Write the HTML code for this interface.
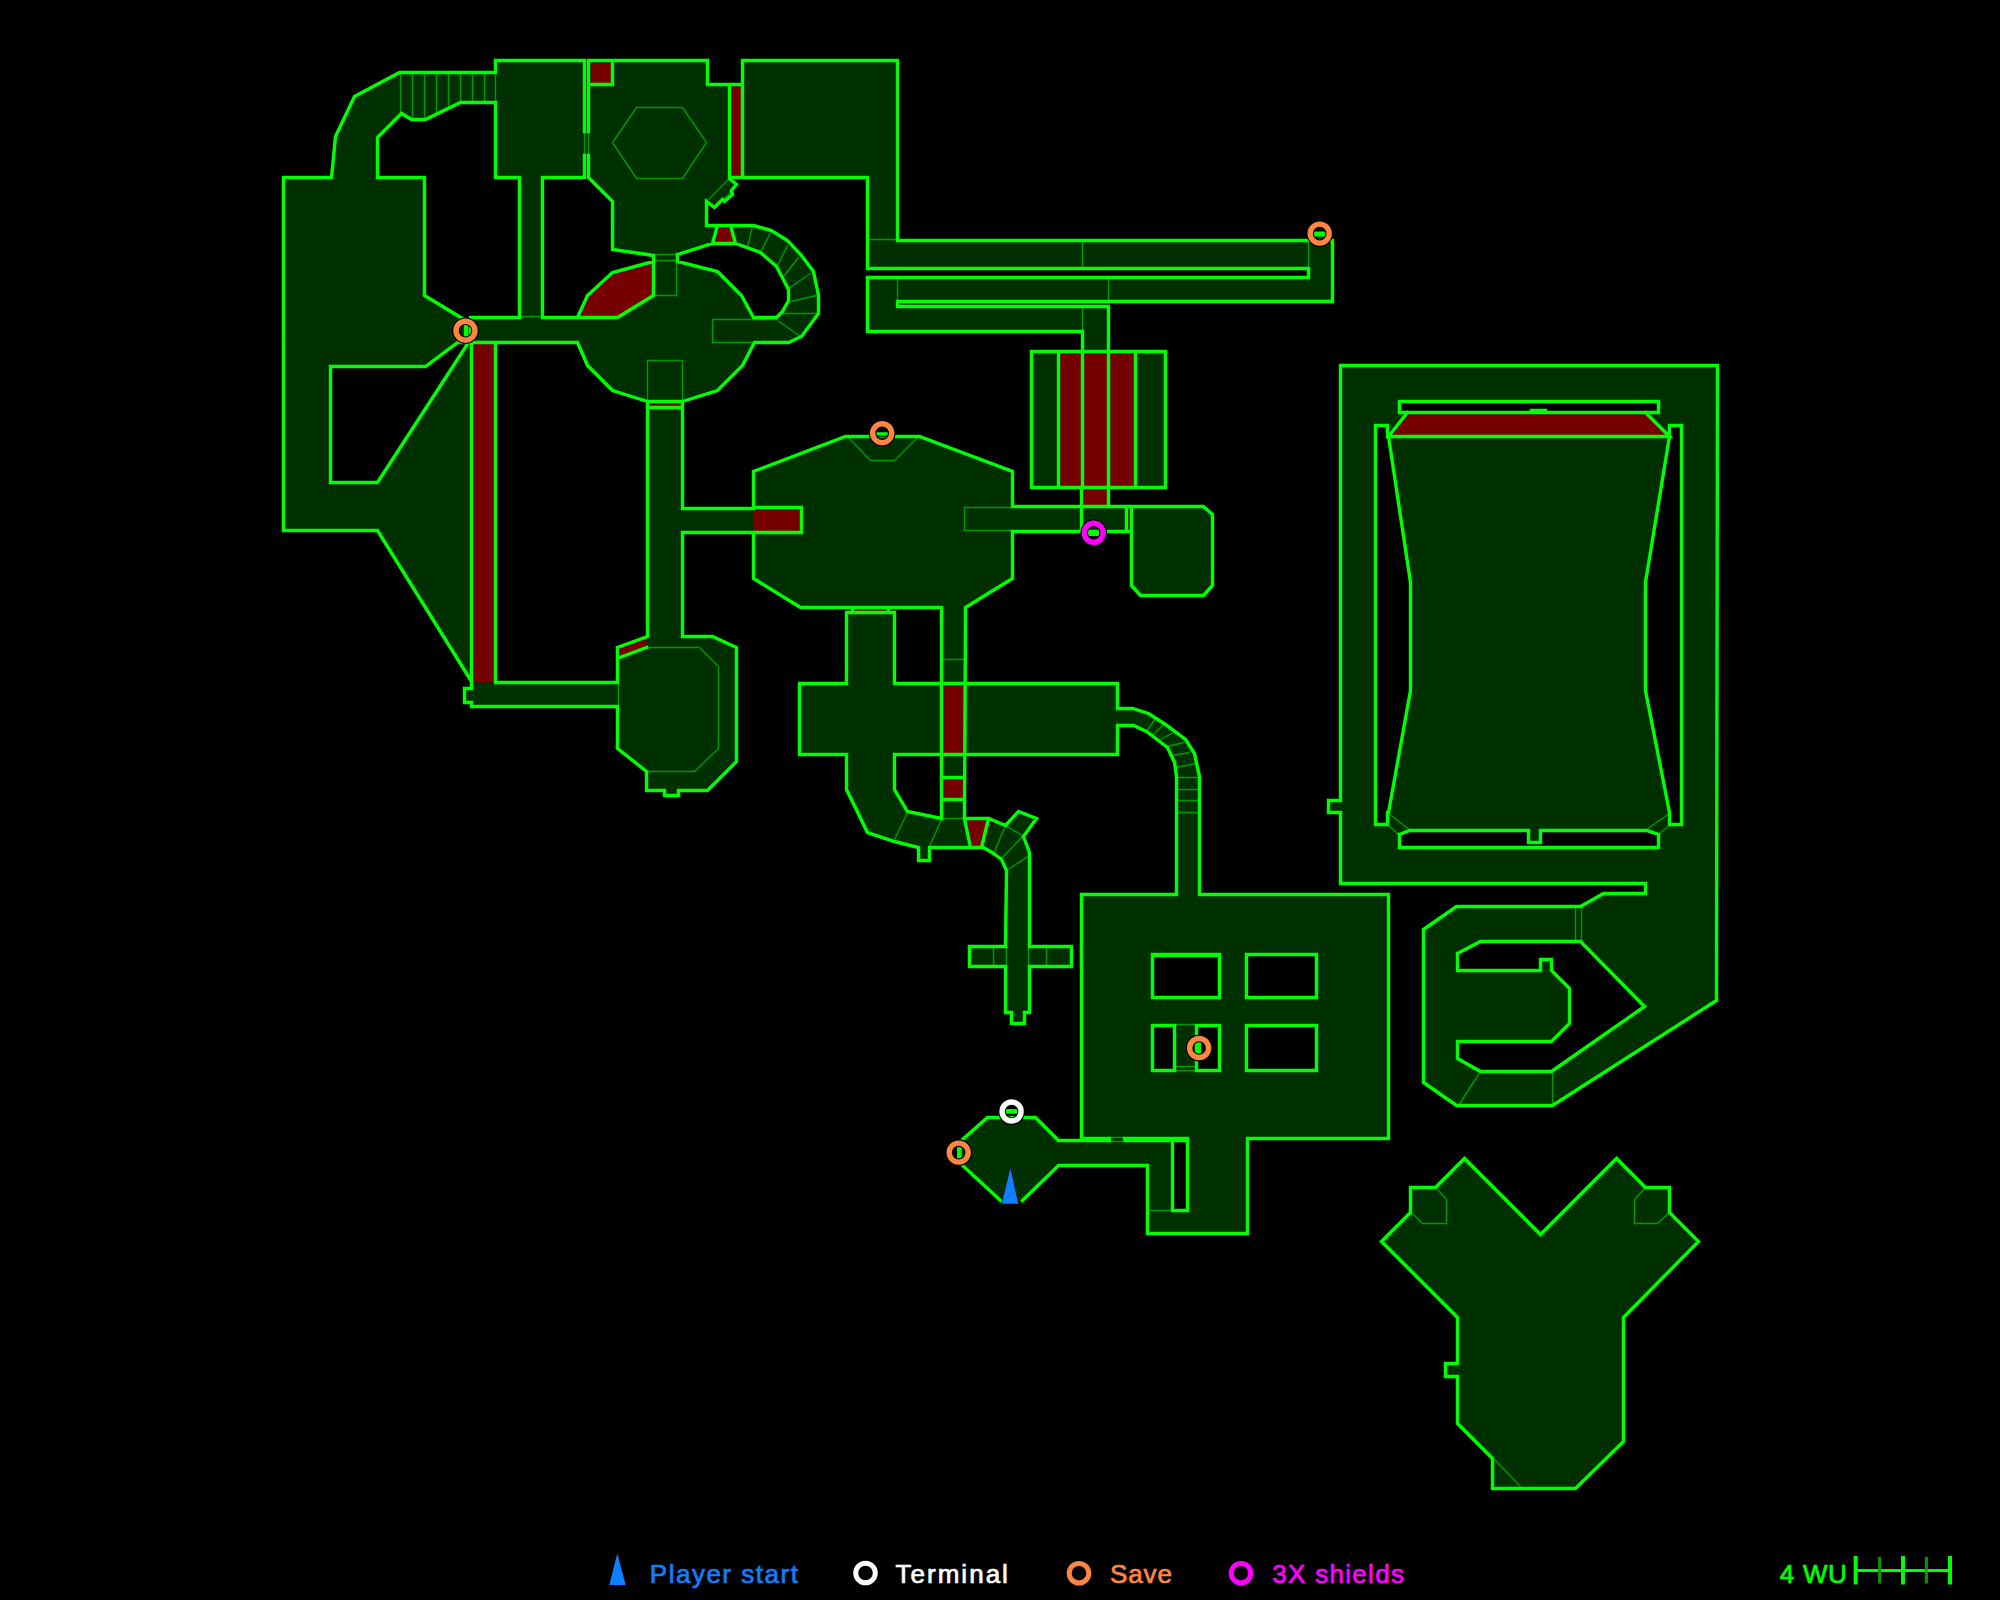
<!DOCTYPE html>
<html><head><meta charset="utf-8"><style>
html,body{margin:0;padding:0;background:#000;width:2000px;height:1600px;overflow:hidden}
svg{display:block}
.t{font-family:"Liberation Sans",sans-serif;font-size:26px;font-weight:normal;stroke-width:0.7px}
</style></head><body>
<svg width="2000" height="1600" viewBox="0 0 2000 1600">
<rect width="2000" height="1600" fill="#000"/>
<g fill="#002f00" stroke="#002f00" stroke-width="1">
<polygon points="283.5,177.5 331.5,177.5 335.5,136.5 354.5,96.5 399.5,72.5 495.5,72.5 495.5,102.5 460.5,102.5 425.5,119.5 411.5,119.5 401.5,113.5 377.5,137.5 377.5,177.5 424.5,177.5 424.5,295.5 465.5,322.5 471.5,343.5 471.5,681.5 377.5,530.5 283.5,530.5"/>
<polygon points="495.5,60.5 585.5,60.5 585.5,131.5 589.5,131.5 589.5,155.5 585.5,155.5 585.5,177.5 542.5,177.5 542.5,317.5 519.5,317.5 519.5,177.5 495.5,177.5"/>
<polygon points="462.5,317.5 582.5,317.5 582.5,342.5 462.5,342.5"/>
<polygon points="577.5,317.5 587.5,295.5 612.5,271.5 653.5,261.5 653.5,255.5 677.5,254.5 677.5,261.5 717.5,271.5 742.5,296.5 754.5,319.5 754.5,342.5 742.5,365.5 717.5,390.5 682.5,401.5 647.5,401.5 612.5,390.5 587.5,365.5 577.5,342.5"/>
<polygon points="588.5,60.5 707.5,60.5 707.5,84.5 729.5,84.5 729.5,178.5 736.5,184.5 731.5,190.5 732.5,194.5 724.5,201.5 722.5,199.5 714.5,207.5 706.5,201.5 706.5,225.5 717.5,225.5 712.5,243.5 677.5,254.5 653.5,255.5 612.5,249.5 612.5,201.5 588.5,177.5"/>
<polygon points="706.5,225.5 753.5,225.5 771.5,230.5 787.5,240.5 801.5,255.5 813.5,271.5 818.5,295.5 818.5,313.5 801.5,336.5 788.5,342.5 754.5,342.5 754.5,319.5 776.5,317.5 782.5,311.5 788.5,300.5 788.5,289.5 776.5,266.5 760.5,252.5 735.5,243.5 712.5,243.5"/>
<polygon points="742.5,60.5 897.5,60.5 897.5,240.5 1332.5,240.5 1332.5,301.5 1108.5,301.5 1108.5,351.5 1082.5,351.5 1082.5,331.5 867.5,331.5 867.5,277.5 1308.5,277.5 1308.5,268.5 867.5,268.5 867.5,177.5 742.5,177.5"/>
<polygon points="647.5,401.5 682.5,401.5 682.5,508.5 753.5,508.5 753.5,532.5 682.5,532.5 682.5,636.5 712.5,636.5 736.5,647.5 736.5,761.5 707.5,790.5 678.5,790.5 678.5,795.5 664.5,795.5 664.5,790.5 646.5,790.5 646.5,771.5 617.5,748.5 617.5,647.5 646.5,636.5"/>
<polygon points="471.5,682.5 618.5,682.5 618.5,706.5 471.5,706.5 471.5,702.5 464.5,702.5 464.5,688.5 471.5,688.5"/>
<polygon points="845.5,436.5 919.5,436.5 1012.5,471.5 1012.5,578.5 965.5,607.5 941.5,607.5 800.5,607.5 753.5,578.5 753.5,471.5"/>
<polygon points="846.5,612.5 894.5,612.5 894.5,683.5 941.5,683.5 941.5,754.5 894.5,754.5 894.5,789.5 907.5,811.5 941.5,818.5 1005.5,825.5 1018.5,811.5 1036.5,818.5 1023.5,836.5 1029.5,852.5 1029.5,946.5 1071.5,946.5 1071.5,966.5 1029.5,966.5 1029.5,1012.5 1024.5,1012.5 1024.5,1023.5 1011.5,1023.5 1011.5,1012.5 1005.5,1012.5 1005.5,966.5 969.5,966.5 969.5,946.5 1005.5,946.5 1005.5,871.5 1001.5,859.5 993.5,853.5 983.5,847.5 929.5,847.5 929.5,860.5 918.5,860.5 918.5,847.5 894.5,841.5 867.5,832.5 846.5,789.5 846.5,754.5 799.5,754.5 799.5,683.5 846.5,683.5"/>
<polygon points="941.5,607.5 964.5,607.5 964.5,820.5 941.5,820.5"/>
<polygon points="964.5,682.5 1117.5,682.5 1117.5,708.5 1132.5,708.5 1148.5,713.5 1165.5,724.5 1185.5,739.5 1194.5,753.5 1199.5,776.5 1199.5,896.5 1176.5,896.5 1176.5,776.5 1174.5,762.5 1167.5,747.5 1146.5,731.5 1133.5,725.5 1117.5,725.5 1117.5,754.5 964.5,754.5"/>
<polygon points="1031.5,351.5 1165.5,351.5 1165.5,487.5 1031.5,487.5"/>
<polygon points="1011.5,506.5 1131.5,506.5 1131.5,531.5 1011.5,531.5"/>
<polygon points="1131.5,505.5 1203.5,505.5 1212.5,514.5 1212.5,585.5 1203.5,595.5 1140.5,595.5 1131.5,585.5"/>
<polygon points="1340.5,365.5 1717.5,365.5 1716.5,1000.5 1552.5,1105.5 1456.5,1105.5 1423.5,1082.5 1423.5,929.5 1456.5,906.5 1580.5,906.5 1603.5,893.5 1645.5,893.5 1645.5,883.5 1340.5,883.5 1340.5,812.5 1328.5,812.5 1328.5,800.5 1340.5,800.5"/>
<polygon points="1081.5,895.5 1388.5,895.5 1388.5,1138.5 1247.5,1138.5 1247.5,1233.5 1147.5,1233.5 1147.5,1165.5 1058.5,1165.5 1058.5,1139.5 1081.5,1139.5"/>
<polygon points="987.5,1117.5 1035.5,1117.5 1058.5,1139.5 1058.5,1165.5 1022.5,1200.5 1000.5,1200.5 962.5,1165.5 962.5,1139.5"/>
<polygon points="1464.5,1158.5 1540.5,1234.5 1616.5,1158.5 1645.5,1187.5 1669.5,1187.5 1669.5,1212.5 1698.5,1241.5 1623.5,1317.5 1623.5,1441.5 1575.5,1488.5 1492.5,1488.5 1492.5,1458.5 1457.5,1423.5 1457.5,1376.5 1445.5,1376.5 1445.5,1363.5 1457.5,1363.5 1457.5,1317.5 1381.5,1241.5 1410.5,1212.5 1410.5,1187.5 1435.5,1187.5"/>
</g><g fill="#000">
<polygon points="465.5,335.5 425.5,366.5 330.5,366.5 330.5,482.5 377.5,482.5 469.5,344.5"/>
<polygon points="1399.5,401.5 1658.5,401.5 1658.5,412.5 1399.5,412.5"/>
<polygon points="1375.5,425.5 1387.5,425.5 1387.5,436.5 1410.5,582.5 1410.5,690.5 1387.5,812.5 1387.5,824.5 1375.5,824.5"/>
<polygon points="1681.5,425.5 1669.5,425.5 1669.5,436.5 1645.5,582.5 1645.5,690.5 1669.5,812.5 1669.5,824.5 1681.5,824.5"/>
<polygon points="1399.5,834.5 1409.5,830.5 1528.5,830.5 1528.5,842.5 1540.5,842.5 1540.5,830.5 1646.5,830.5 1658.5,834.5 1658.5,847.5 1399.5,847.5"/>
<polygon points="1457.5,953.5 1480.5,941.5 1580.5,941.5 1644.5,1006.5 1551.5,1071.5 1480.5,1071.5 1457.5,1058.5 1457.5,1041.5 1551.5,1041.5 1569.5,1023.5 1569.5,988.5 1551.5,970.5 1551.5,959.5 1540.5,959.5 1540.5,970.5 1457.5,970.5"/>
<polygon points="1152.5,954.5 1219.5,954.5 1219.5,997.5 1152.5,997.5"/>
<polygon points="1246.5,954.5 1316.5,954.5 1316.5,997.5 1246.5,997.5"/>
<polygon points="1152.5,1025.5 1174.5,1025.5 1174.5,1070.5 1152.5,1070.5"/>
<polygon points="1196.5,1025.5 1219.5,1025.5 1219.5,1070.5 1196.5,1070.5"/>
<polygon points="1246.5,1025.5 1316.5,1025.5 1316.5,1070.5 1246.5,1070.5"/>
<polygon points="1172.5,1139.5 1187.5,1139.5 1187.5,1210.5 1172.5,1210.5"/>
</g><g fill="#760000">
<polygon points="590.5,62.5 612.5,62.5 612.5,84.5 590.5,84.5"/>
<polygon points="729.5,84.5 742.5,84.5 742.5,177.5 729.5,177.5"/>
<polygon points="580.5,317.5 587.5,295.5 612.5,272.5 653.5,261.5 653.5,295.5 617.5,317.5"/>
<polygon points="717.5,225.5 730.5,225.5 735.5,243.5 712.5,243.5"/>
<polygon points="471.5,343.5 495.5,343.5 495.5,682.5 471.5,682.5"/>
<polygon points="647.5,402.5 682.5,402.5 682.5,407.5 647.5,407.5"/>
<polygon points="616.5,647.5 646.5,636.5 646.5,647.5 619.5,657.5"/>
<polygon points="753.5,507.5 801.5,507.5 801.5,532.5 753.5,532.5"/>
<polygon points="852.5,607.5 889.5,607.5 889.5,612.5 852.5,612.5"/>
<polygon points="941.5,683.5 964.5,683.5 964.5,754.5 941.5,754.5"/>
<polygon points="941.5,777.5 964.5,777.5 964.5,799.5 941.5,799.5"/>
<polygon points="966.5,819.5 986.5,819.5 981.5,846.5 970.5,846.5"/>
<polygon points="1058.5,351.5 1135.5,351.5 1135.5,487.5 1058.5,487.5"/>
<polygon points="1081.5,487.5 1108.5,487.5 1108.5,506.5 1081.5,506.5"/>
<polygon points="1126.5,508.5 1132.5,508.5 1132.5,529.5 1126.5,529.5"/>
<polygon points="1407.5,412.5 1645.5,412.5 1669.5,436.5 1388.5,436.5"/>
</g>
<path d="M400.5 72.5 L400.5 113.5 M412.5 72.5 L412.5 119.5 M424.5 72.5 L424.5 119.5 M436.5 72.5 L436.5 114.5 M448.5 72.5 L448.5 108.5 M460.5 72.5 L460.5 102.5 M472.5 72.5 L472.5 102.5 M484.5 72.5 L484.5 102.5 M495.5 72.5 L495.5 102.5 M584.5 131.5 L584.5 155.5 M588.5 131.5 L588.5 155.5 M520.5 316.5 L542.5 316.5 M612.5 142.5 L636.5 107.5 L682.5 107.5 L706.5 142.5 L682.5 178.5 L636.5 178.5 L612.5 142.5 M707.5 200.5 L729.5 178.5 M723.5 199.5 L731.5 191.5 M655.5 254.5 L676.5 254.5 M653.5 260.5 L677.5 260.5 M676.5 261.5 L676.5 295.5 L653.5 295.5 M777.5 319.5 L712.5 319.5 L712.5 342.5 L754.5 342.5 M752.5 226.5 L747.5 246.5 M770.5 232.5 L760.5 252.5 M787.5 245.5 L777.5 265.5 M798.5 257.5 L783.5 276.5 M810.5 273.5 L788.5 288.5 M816.5 295.5 L790.5 301.5 M816.5 313.5 L782.5 313.5 M800.5 336.5 L777.5 320.5 M647.5 401.5 L647.5 360.5 L682.5 360.5 L682.5 401.5 M867.5 239.5 L897.5 239.5 M1082.5 240.5 L1082.5 268.5 M897.5 277.5 L897.5 301.5 M1108.5 277.5 L1108.5 301.5 M1082.5 306.5 L1082.5 331.5 M1308.5 240.5 L1308.5 269.5 M646.5 647.5 L699.5 647.5 L718.5 666.5 L718.5 748.5 L694.5 771.5 L646.5 771.5 M618.5 682.5 L618.5 707.5 M848.5 437.5 L870.5 460.5 L894.5 460.5 L917.5 437.5 M870.5 437.5 L894.5 437.5 M1012.5 507.5 L964.5 507.5 L964.5 530.5 L1012.5 530.5 M941.5 659.5 L964.5 659.5 M941.5 818.5 L964.5 818.5 M907.5 812.5 L894.5 839.5 M941.5 819.5 L929.5 846.5 M1005.5 825.5 L1022.5 835.5 M1005.5 825.5 L994.5 851.5 M1022.5 836.5 L1001.5 858.5 M1029.5 855.5 L1006.5 870.5 M1146.5 731.5 L1155.5 718.5 M1153.5 734.5 L1163.5 724.5 M1160.5 739.5 L1173.5 732.5 M1167.5 746.5 L1183.5 742.5 M1172.5 755.5 L1189.5 752.5 M1175.5 767.5 L1196.5 763.5 M1176.5 777.5 L1199.5 777.5 M1177.5 789.5 L1198.5 789.5 M1177.5 800.5 L1198.5 800.5 M1177.5 812.5 L1198.5 812.5 M993.5 946.5 L993.5 966.5 M1006.5 946.5 L1006.5 966.5 M1028.5 946.5 L1028.5 966.5 M1046.5 946.5 L1046.5 966.5 M1388.5 813.5 L1409.5 829.5 M1388.5 825.5 L1398.5 834.5 M1669.5 813.5 L1646.5 829.5 M1669.5 825.5 L1658.5 834.5 M1575.5 906.5 L1575.5 941.5 M1581.5 906.5 L1581.5 941.5 M1480.5 1071.5 L1458.5 1105.5 M1552.5 1071.5 L1552.5 1105.5 M1109.5 1137.5 L1125.5 1137.5 M1109.5 1141.5 L1125.5 1141.5 M1147.5 1210.5 L1172.5 1210.5 M1174.5 1024.5 L1196.5 1024.5 M1174.5 1066.5 L1196.5 1066.5 M1174.5 1070.5 L1196.5 1070.5 M1435.5 1187.5 L1446.5 1199.5 L1446.5 1223.5 L1422.5 1223.5 L1411.5 1212.5 M1645.5 1187.5 L1634.5 1199.5 L1634.5 1223.5 L1657.5 1223.5 L1669.5 1212.5 M1494.5 1459.5 L1520.5 1486.5" fill="none" stroke="#009a00" stroke-width="1.4" stroke-linecap="butt" stroke-linejoin="miter"/>
<path d="M470.5 317.5 L519.5 317.5 L519.5 177.5 L495.5 177.5 L495.5 102.5 L460.5 102.5 L425.5 119.5 L411.5 119.5 L401.5 113.5 L377.5 137.5 L377.5 177.5 L424.5 177.5 L424.5 295.5 L462.5 318.5 M495.5 60.5 L495.5 72.5 L399.5 72.5 L354.5 96.5 L335.5 136.5 L331.5 177.5 L283.5 177.5 L283.5 530.5 L377.5 530.5 L471.5 681.5 M464.5 337.5 L425.5 366.5 L330.5 366.5 L330.5 482.5 L377.5 482.5 L468.5 342.5 M495.5 60.5 L584.5 60.5 L584.5 131.5 M584.5 155.5 L584.5 177.5 L542.5 177.5 L542.5 317.5 L617.5 317.5 L653.5 295.5 L653.5 255.5 M588.5 155.5 L588.5 177.5 L612.5 201.5 L612.5 249.5 L653.5 255.5 M588.5 131.5 L588.5 60.5 L707.5 60.5 L707.5 84.5 L742.5 84.5 M729.5 84.5 L729.5 178.5 L736.5 184.5 L731.5 190.5 L732.5 194.5 L724.5 201.5 L722.5 199.5 L714.5 207.5 L706.5 201.5 L706.5 225.5 L753.5 225.5 L771.5 230.5 L787.5 240.5 L801.5 255.5 L813.5 271.5 L818.5 295.5 L818.5 313.5 L801.5 336.5 L788.5 342.5 L754.5 342.5 L742.5 365.5 L717.5 390.5 L682.5 401.5 M588.5 84.5 L612.5 84.5 L612.5 60.5 M577.5 317.5 L587.5 295.5 L612.5 272.5 L653.5 261.5 M677.5 254.5 L677.5 261.5 L717.5 271.5 L741.5 295.5 L753.5 317.5 L776.5 317.5 L782.5 311.5 L788.5 300.5 L788.5 289.5 L776.5 266.5 L760.5 252.5 L735.5 243.5 L712.5 243.5 L677.5 254.5 M717.5 225.5 L712.5 243.5 M730.5 225.5 L735.5 243.5 M460.5 342.5 L577.5 342.5 L587.5 365.5 L612.5 390.5 L647.5 401.5 M729.5 177.5 L867.5 177.5 L867.5 268.5 L1308.5 268.5 L1308.5 277.5 L867.5 277.5 L867.5 331.5 L1082.5 331.5 L1082.5 351.5 M742.5 177.5 L742.5 60.5 L897.5 60.5 L897.5 240.5 L1332.5 240.5 L1332.5 301.5 L897.5 301.5 L897.5 306.5 L1108.5 306.5 L1108.5 351.5 M471.5 343.5 L471.5 682.5 M495.5 343.5 L495.5 682.5 M647.5 401.5 L647.5 636.5 L617.5 647.5 L617.5 682.5 M617.5 706.5 L617.5 748.5 L646.5 771.5 L646.5 790.5 L664.5 790.5 L664.5 795.5 L678.5 795.5 L678.5 790.5 L707.5 790.5 L736.5 761.5 L736.5 647.5 L712.5 636.5 L682.5 636.5 L682.5 532.5 L753.5 532.5 L753.5 578.5 L800.5 607.5 L941.5 607.5 L941.5 818.5 M682.5 401.5 L682.5 508.5 L753.5 508.5 L753.5 471.5 L845.5 436.5 L870.5 436.5 M894.5 436.5 L919.5 436.5 L1012.5 471.5 L1012.5 506.5 M647.5 401.5 L682.5 401.5 M647.5 407.5 L682.5 407.5 M495.5 682.5 L617.5 682.5 M471.5 682.5 L471.5 688.5 L464.5 688.5 L464.5 702.5 L471.5 702.5 L471.5 706.5 L617.5 706.5 M619.5 657.5 L646.5 647.5 M466.5 322.5 L466.5 339.5 M470.5 322.5 L470.5 339.5 M1012.5 531.5 L1012.5 578.5 L965.5 607.5 L964.5 818.5 M753.5 507.5 L801.5 507.5 L801.5 532.5 L753.5 532.5 M894.5 683.5 L894.5 612.5 L846.5 612.5 L846.5 683.5 L799.5 683.5 L799.5 754.5 L846.5 754.5 L846.5 789.5 L867.5 832.5 L894.5 841.5 L918.5 847.5 L918.5 860.5 L929.5 860.5 L929.5 847.5 L983.5 847.5 L993.5 853.5 L1001.5 859.5 L1006.5 870.5 L1005.5 946.5 L969.5 946.5 L969.5 966.5 L1005.5 966.5 L1005.5 1012.5 L1011.5 1012.5 L1011.5 1023.5 L1024.5 1023.5 L1024.5 1012.5 L1029.5 1012.5 L1029.5 966.5 L1071.5 966.5 L1071.5 946.5 L1029.5 946.5 L1029.5 852.5 L1023.5 836.5 L1036.5 818.5 L1018.5 811.5 L1005.5 825.5 L988.5 818.5 L964.5 818.5 M894.5 683.5 L1117.5 683.5 L1117.5 708.5 L1132.5 708.5 L1148.5 713.5 L1165.5 724.5 L1185.5 739.5 L1194.5 753.5 L1199.5 776.5 L1199.5 894.5 L1388.5 894.5 L1388.5 1138.5 L1247.5 1138.5 L1247.5 1233.5 L1147.5 1233.5 L1147.5 1165.5 L1058.5 1165.5 L1022.5 1200.5 M894.5 754.5 L894.5 789.5 L907.5 811.5 L941.5 818.5 M894.5 754.5 L1117.5 754.5 L1117.5 725.5 L1133.5 725.5 L1146.5 731.5 L1167.5 747.5 L1174.5 762.5 L1176.5 776.5 L1176.5 894.5 L1081.5 894.5 L1081.5 1139.5 L1109.5 1139.5 M941.5 777.5 L964.5 777.5 M941.5 799.5 L964.5 799.5 M964.5 818.5 L970.5 847.5 M988.5 818.5 L981.5 847.5 M852.5 607.5 L852.5 612.5 M888.5 607.5 L888.5 612.5 M1031.5 351.5 L1165.5 351.5 L1165.5 487.5 L1031.5 487.5 L1031.5 351.5 M1058.5 351.5 L1058.5 487.5 M1082.5 351.5 L1082.5 487.5 M1108.5 351.5 L1108.5 487.5 M1135.5 351.5 L1135.5 487.5 M1081.5 487.5 L1081.5 531.5 M1108.5 487.5 L1108.5 506.5 M1012.5 506.5 L1203.5 506.5 L1212.5 514.5 L1212.5 585.5 L1203.5 595.5 L1140.5 595.5 L1131.5 585.5 L1131.5 506.5 M1012.5 531.5 L1131.5 531.5 M1126.5 508.5 L1126.5 529.5 M1645.5 883.5 L1340.5 883.5 L1340.5 812.5 L1328.5 812.5 L1328.5 800.5 L1340.5 800.5 L1340.5 365.5 L1717.5 365.5 L1716.5 1000.5 L1552.5 1105.5 L1456.5 1105.5 L1423.5 1082.5 L1423.5 929.5 L1456.5 906.5 L1580.5 906.5 L1603.5 893.5 L1645.5 893.5 L1645.5 883.5 M1399.5 401.5 L1658.5 401.5 L1658.5 412.5 L1399.5 412.5 L1399.5 401.5 M1531.5 410.5 L1545.5 410.5 M1387.5 436.5 L1387.5 425.5 L1375.5 425.5 L1375.5 824.5 L1387.5 824.5 L1387.5 812.5 M1669.5 436.5 L1669.5 425.5 L1681.5 425.5 L1681.5 824.5 L1669.5 824.5 L1669.5 812.5 M1407.5 412.5 L1388.5 436.5 L1669.5 436.5 L1645.5 412.5 M1388.5 436.5 L1410.5 582.5 L1410.5 690.5 L1388.5 812.5 M1669.5 436.5 L1645.5 582.5 L1645.5 690.5 L1669.5 812.5 M1399.5 834.5 L1399.5 847.5 L1658.5 847.5 L1658.5 834.5 L1646.5 830.5 L1540.5 830.5 L1540.5 842.5 L1528.5 842.5 L1528.5 830.5 L1409.5 830.5 L1399.5 834.5 M1457.5 953.5 L1480.5 941.5 L1580.5 941.5 L1644.5 1006.5 L1551.5 1071.5 L1480.5 1071.5 L1457.5 1058.5 L1457.5 1041.5 L1551.5 1041.5 L1569.5 1023.5 L1569.5 988.5 L1551.5 970.5 L1551.5 959.5 L1540.5 959.5 L1540.5 970.5 L1457.5 970.5 L1457.5 953.5 M1152.5 954.5 L1219.5 954.5 L1219.5 997.5 L1152.5 997.5 L1152.5 954.5 M1246.5 954.5 L1316.5 954.5 L1316.5 997.5 L1246.5 997.5 L1246.5 954.5 M1152.5 1025.5 L1174.5 1025.5 L1174.5 1070.5 L1152.5 1070.5 L1152.5 1025.5 M1196.5 1025.5 L1219.5 1025.5 L1219.5 1070.5 L1196.5 1070.5 L1196.5 1025.5 M1246.5 1025.5 L1316.5 1025.5 L1316.5 1070.5 L1246.5 1070.5 L1246.5 1025.5 M1152.5 955.5 L1219.5 955.5 M1125.5 1140.5 L1187.5 1140.5 L1187.5 1210.5 L1172.5 1210.5 L1172.5 1140.5 M1124.5 1138.5 L1187.5 1138.5 M1081.5 1138.5 L1109.5 1138.5 M962.5 1139.5 L987.5 1117.5 L1035.5 1117.5 L1058.5 1140.5 L1109.5 1140.5 M962.5 1165.5 L1000.5 1200.5 M1464.5 1158.5 L1540.5 1234.5 L1616.5 1158.5 L1645.5 1187.5 L1669.5 1187.5 L1669.5 1212.5 L1698.5 1241.5 L1623.5 1317.5 L1623.5 1441.5 L1575.5 1488.5 L1492.5 1488.5 L1492.5 1458.5 L1457.5 1423.5 L1457.5 1376.5 L1445.5 1376.5 L1445.5 1363.5 L1457.5 1363.5 L1457.5 1317.5 L1381.5 1241.5 L1410.5 1212.5 L1410.5 1187.5 L1435.5 1187.5 L1464.5 1158.5" fill="none" stroke="#00ff00" stroke-width="3.4" stroke-linecap="square" stroke-linejoin="miter" stroke-miterlimit="3"/>
<rect x="464" y="322" width="3.75" height="17" fill="#00ff00"/>
<rect x="469" y="322" width="2.25" height="17" fill="#00ff00"/>
<rect x="1312" y="231.5" width="16" height="5.2" fill="#00ff00"/>
<rect x="874" y="432.2" width="16" height="3.3" fill="#00ff00"/>
<rect x="1197" y="1040" width="4" height="16" fill="#00ff00"/>
<rect x="957" y="1144" width="4.7" height="17" fill="#00ff00"/>
<rect x="1086" y="530.4" width="15" height="5.6" fill="#00ff00"/>
<rect x="1004" y="1109" width="15" height="4.8" fill="#00ff00"/>
<circle cx="465.5" cy="330.7" r="9.5" fill="none" stroke="#000" stroke-width="7.6"/><circle cx="465.5" cy="330.7" r="9.5" fill="none" stroke="#ff8543" stroke-width="5.4"/>
<circle cx="1319.7" cy="233.6" r="9.5" fill="none" stroke="#000" stroke-width="7.6"/><circle cx="1319.7" cy="233.6" r="9.5" fill="none" stroke="#ff8543" stroke-width="5.4"/>
<circle cx="882.2" cy="433.2" r="9.5" fill="none" stroke="#000" stroke-width="7.6"/><circle cx="882.2" cy="433.2" r="9.5" fill="none" stroke="#ff8543" stroke-width="5.4"/>
<circle cx="1199.1" cy="1048" r="9.5" fill="none" stroke="#000" stroke-width="7.6"/><circle cx="1199.1" cy="1048" r="9.5" fill="none" stroke="#ff8543" stroke-width="5.4"/>
<circle cx="958.7" cy="1152.6" r="9.5" fill="none" stroke="#000" stroke-width="7.6"/><circle cx="958.7" cy="1152.6" r="9.5" fill="none" stroke="#ff8543" stroke-width="5.4"/>
<circle cx="1093.7" cy="532.8" r="9.5" fill="none" stroke="#000" stroke-width="7.6"/><circle cx="1093.7" cy="532.8" r="9.5" fill="none" stroke="#ff00ff" stroke-width="5.4"/>
<circle cx="1011.6" cy="1111.5" r="9.5" fill="none" stroke="#000" stroke-width="7.6"/><circle cx="1011.6" cy="1111.5" r="9.5" fill="none" stroke="#ffffff" stroke-width="5.4"/>
<polygon points="1010.4,1166.5 1019,1204.5 1001,1204.5" fill="#000"/>
<polygon points="1010.4,1168 1018.3,1203.8 1001.7,1203.8" fill="#0f7fff"/>
<polygon points="617.3,1553.4 625.7,1584.9 609.3,1584.9" fill="#0f7fff"/>
<circle cx="865.5" cy="1573" r="9.8" fill="none" stroke="#ffffff" stroke-width="5"/>
<circle cx="1079" cy="1573.2" r="9.8" fill="none" stroke="#ff8543" stroke-width="5"/>
<circle cx="1241" cy="1573.2" r="9.8" fill="none" stroke="#ff00ff" stroke-width="5"/>
<path d="M1855.7 1570.4 L1950 1570.4" stroke="#00ff00" stroke-width="3"/>
<path d="M1855.7 1556 L1855.7 1584.6 M1903 1556 L1903 1584.6 M1950 1556 L1950 1584.6" stroke="#00ff00" stroke-width="4"/>
<path d="M1879.6 1557 L1879.6 1583.5 M1926.4 1557 L1926.4 1583.5" stroke="#009a00" stroke-width="3"/>
<text x="649.8" y="1582.8" fill="#0f7fff" stroke="#0f7fff" class="t" textLength="148.1" lengthAdjust="spacing">Player start</text>
<text x="895.5" y="1582.8" fill="#ffffff" stroke="#ffffff" class="t" textLength="112.4" lengthAdjust="spacing">Terminal</text>
<text x="1109.9" y="1582.8" fill="#ff8543" stroke="#ff8543" class="t" textLength="62.1" lengthAdjust="spacing">Save</text>
<text x="1272.2" y="1582.8" fill="#ff00ff" stroke="#ff00ff" class="t" textLength="131.7" lengthAdjust="spacing">3X shields</text>
<text x="1779.8" y="1583" fill="#00ff00" stroke="#00ff00" class="t" textLength="67.1" lengthAdjust="spacing">4 WU</text>
</svg></body></html>
